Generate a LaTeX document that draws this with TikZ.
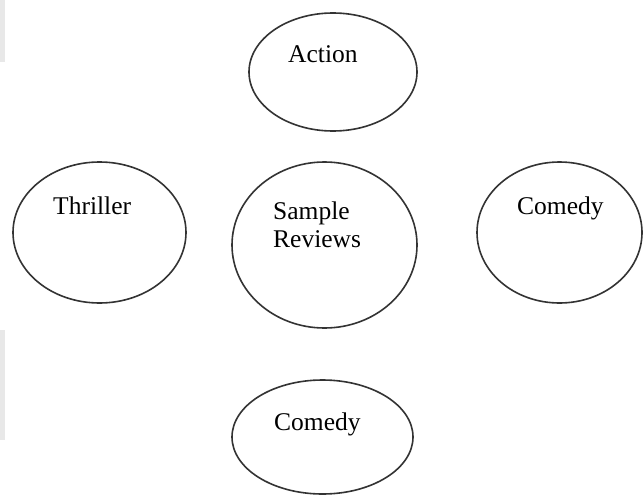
\documentclass[tikz,border=0pt]{standalone}
\usepackage{fontspec}
\setmainfont{Liberation Serif}
\usetikzlibrary{shapes.geometric}
\begin{document}
\begin{tikzpicture}[x=1pt,y=-1pt,
  genre/.style={draw=black!80, line width=1.6pt, ellipse, inner sep=0pt},
  caption/.style={anchor=base west, inner sep=0pt, text=black,
    font=\fontsize{25.5}{28}\selectfont}]
  \useasboundingbox (0,0) rectangle (644,495);
  \fill[white] (0,0) rectangle (644,495);
  % faint grey strip along the left margin
  \fill[black!9] (0,0) rectangle (5,62);
  \fill[black!9] (0,330) rectangle (5,440);

  % genre ellipses
  \node[genre, minimum width=168pt, minimum height=118pt] (action)   at (333,72) {};
  \node[genre, minimum width=173pt, minimum height=141pt] (thriller) at (99.5,232.5) {};
  \node[genre, minimum width=185pt, minimum height=166pt] (sample)   at (324.5,245) {};
  \node[genre, minimum width=165pt, minimum height=141pt] (comedyR)  at (559.5,232.5) {};
  \node[genre, minimum width=181pt, minimum height=114pt] (comedyB)  at (322.5,437) {};

  % labels
  \node[caption] (actionT)   at (288,62)  {Action};
  \node[caption] (thrillerT) at (53,214)  {Thriller};
  \node[caption] (sampleT)   at (273,219) {Sample};
  \node[caption] (reviewsT)  at (273,247) {Reviews};
  \node[caption] (comedyRT)  at (517,214) {Comedy};
  \node[caption] (comedyBT)  at (274,430) {Comedy};
\end{tikzpicture}
\end{document}
